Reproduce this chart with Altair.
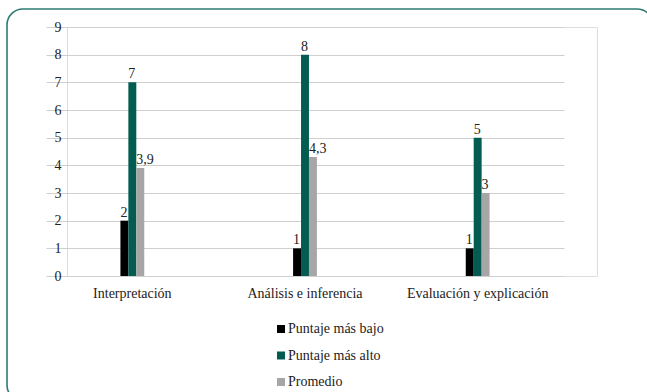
import altair as alt
import pandas as pd

categories = ["Interpretación", "Análisis e inferencia", "Evaluación y explicación"]
series_names = ["Puntaje más bajo", "Puntaje más alto", "Promedio"]
puntaje_bajo = [2, 1, 1]
puntaje_alto = [7, 8, 5]
promedio = [3.9, 4.3, 3]
series_colors = ["#000000", "#035c50", "#a6a6a6"]

rows = []
for s, vals in zip(series_names, [puntaje_bajo, puntaje_alto, promedio]):
    for c, v in zip(categories, vals):
        lab = str(v).replace(".", ",")
        rows.append({"categoria": c, "serie": s, "valor": v, "etiqueta": lab})
df = pd.DataFrame(rows)
legend_df = pd.DataFrame({"serie": series_names})

FONT = "Liberation Serif"
TXT = "#222222"

color_scale = alt.Scale(domain=series_names, range=series_colors)

x_enc = alt.X(
    "categoria:N",
    sort=categories,
    scale=alt.Scale(range=[-21, 497], paddingInner=0.862, paddingOuter=0.431),
    axis=alt.Axis(title=None, labelAngle=0, domain=False, ticks=False,
                  labelPadding=10, labelFontSize=14, labelFont=FONT,
                  labelColor=TXT),
)
xoff = alt.XOffset("serie:N", sort=series_names,
                   scale=alt.Scale(paddingInner=0, paddingOuter=0))
y_enc = alt.Y(
    "valor:Q",
    scale=alt.Scale(domain=[0, 9]),
    axis=alt.Axis(title=None, values=list(range(10)), grid=True,
                  gridColor="#cfcfcf", gridWidth=1.2, domain=False, ticks=False,
                  labelPadding=6, labelFontSize=14, labelFont=FONT,
                  labelColor=TXT),
)

base = alt.Chart(df)

bars = base.mark_bar().encode(
    x=x_enc,
    xOffset=xoff,
    y=y_enc,
    color=alt.Color("serie:N", sort=series_names, scale=color_scale, legend=None),
)

texts = base.mark_text(
    align="left", baseline="bottom", dx=-4, dy=-1, font=FONT, fontSize=14,
    color=TXT,
).encode(
    x=x_enc,
    xOffset=xoff,
    y=y_enc,
    text="etiqueta:N",
)

main = alt.layer(bars, texts)

# legend built from the series names
leg_y = alt.Y("serie:N", sort=series_names, axis=None,
              scale=alt.Scale(range=[302, 355], padding=0))
leg_sq = alt.Chart(legend_df).mark_square(size=64, opacity=1).encode(
    x=alt.value(214),
    y=leg_y,
    color=alt.Color("serie:N", sort=series_names, scale=color_scale, legend=None),
)
leg_tx = alt.Chart(legend_df).mark_text(
    align="left", baseline="middle", font=FONT, fontSize=14, color=TXT,
).encode(
    x=alt.value(221),
    y=leg_y,
    text="serie:N",
)
legend = alt.layer(leg_sq, leg_tx)

frame = alt.Chart(pd.DataFrame({"a": [0]})).mark_rect(
    filled=False, stroke="#2e7b73", strokeWidth=1.6, cornerRadius=16,
).encode(
    x=alt.value(-60), x2=alt.value(586), y=alt.value(-18), y2=alt.value(374)
)

chart = alt.layer(frame, main, legend).resolve_scale(y="independent").properties(
    width=530, height=249,
    autosize=alt.AutoSizeParams(type="none"),
    padding={"left": 67, "top": 27, "right": 50, "bottom": 116},
).configure_view(stroke=None).configure(background="white", font=FONT)

chart.save("out.html", embed_options={"renderer": "svg", "actions": False})
